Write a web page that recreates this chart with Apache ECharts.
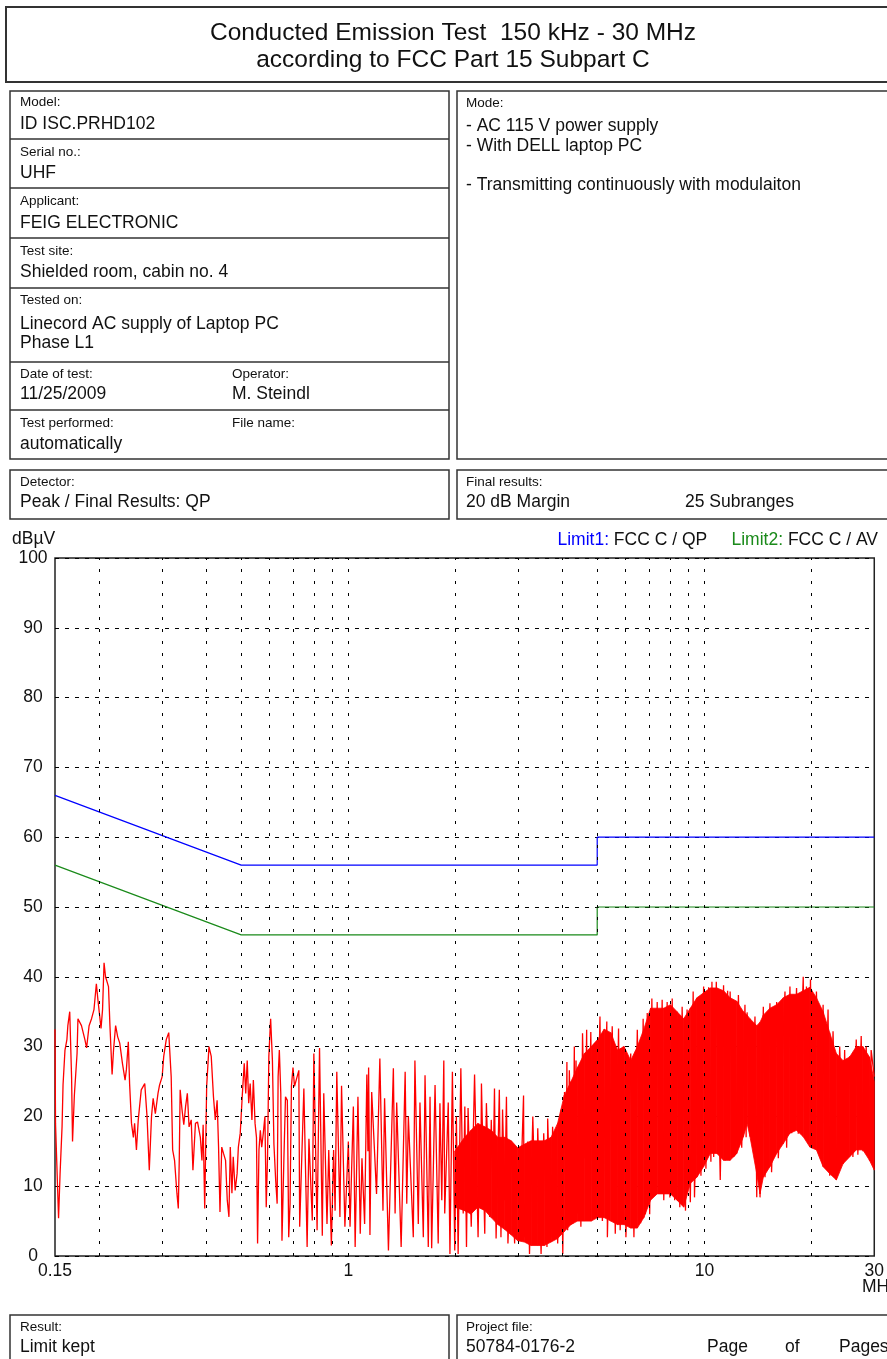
<!DOCTYPE html>
<html><head><meta charset="utf-8">
<script src="https://cdn.jsdelivr.net/npm/echarts@6/dist/echarts.min.js"></script>
<style>html,body{margin:0;padding:0;background:#fff;overflow:hidden}#c{width:887px;height:1359px}</style>
</head><body><div id="c"></div>
<script>
const FONT = '"Liberation Sans", Arial, Helvetica, sans-serif';

// ---- data (frequency in MHz, level in dBµV) ----
const limit1QP = [[0.15,66],[0.5,56],[5,56],[5,60],[30,60]];
const limit2AV = [[0.15,56],[0.5,46],[5,46],[5,50],[30,50]];
const gridFreqs = [0.2,0.3,0.4,0.5,0.6,0.7,0.8,0.9,1,2,3,4,5,6,7,8,9,10,20];
const xTickLabels = ['0.15','1','10','30'];
const yTicks = [0,10,20,30,40,50,60,70,80,90,100];

const traceLow = [[0.150,32.5],[0.1505,19],[0.152,19],[0.1535,5.4],[0.155,11.8],[0.157,18.5],[0.158,24.5],[0.160,29.5],[0.162,31],[0.163,33],[0.165,35],[0.167,25.5],[0.168,16.4],[0.170,23],[0.173,29],[0.174,34],[0.178,33],[0.182,31],[0.184,29.8],[0.187,33],[0.190,34],[0.193,35.3],[0.196,39],[0.198,36.7],[0.202,32.6],[0.204,35.3],[0.206,42],[0.208,40],[0.212,38.6],[0.214,33],[0.217,26],[0.219,29.5],[0.222,33],[0.225,31.4],[0.228,30.5],[0.232,27.6],[0.236,25.2],[0.238,26.7],[0.241,30.7],[0.243,24.7],[0.246,19],[0.249,17],[0.251,19],[0.254,15.2],[0.257,19.5],[0.262,23.8],[0.268,24.7],[0.272,20],[0.276,12.3],[0.280,20],[0.283,22.6],[0.287,20.4],[0.292,23.3],[0.295,24.5],[0.300,25.7],[0.303,28.6],[0.308,31],[0.313,32],[0.318,25.7],[0.321,15.2],[0.325,13.7],[0.330,9],[0.333,6.8],[0.335,13.7],[0.337,23.8],[0.341,21],[0.345,18.8],[0.349,21.4],[0.353,23.3],[0.357,18.5],[0.362,19.5],[0.366,12.3],[0.372,19],[0.377,19.2],[0.384,17],[0.388,13.7],[0.391,18.8],[0.395,6.8],[0.400,24.3],[0.406,30],[0.412,28.6],[0.418,22.8],[0.423,19.5],[0.428,22.3],[0.432,15.6],[0.436,6.3],[0.441,15.6],[0.446,14.7],[0.452,13.7],[0.457,8],[0.462,5.6],[0.466,15.6],[0.471,9],[0.475,14.2],[0.481,9.4],[0.487,11.8],[0.491,15.6],[0.497,17.6],[0.504,23.3],[0.510,27.6],[0.515,23.3],[0.520,28],[0.525,21.9],[0.530,24.7],[0.536,19.5],[0.541,25.2],[0.547,19],[0.552,17],[0.556,1.8],[0.561,15.2],[0.566,18],[0.571,15.6],[0.577,17.6],[0.583,20],[0.588,7],[0.593,14.2],[0.598,28.6],[0.605,34],[0.612,28],[0.618,16],[0.625,10.9],[0.631,7.5],[0.635,25.7],[0.640,29.5],[0.646,23.3],[0.651,2.2],[0.659,13.7],[0.666,22.8],[0.674,22.3],[0.680,2.7],[0.686,7.5],[0.692,24.3],[0.699,27],[0.706,24.3]];

const traceMid = [[0.726,26.6],[0.730,4.2],[0.750,24],[0.766,1.3],[0.775,16.8],[0.792,5.1],[0.800,29],[0.817,3.7],[0.830,29.8],[0.845,2.9],[0.853,23.3],[0.871,4.6],[0.881,15.2],[0.896,1.5],[0.909,15.2],[0.918,6.5],[0.928,26.4],[0.947,5.6],[0.957,24.4],[0.978,4.2],[1.000,16.4],[1.011,4.2],[1.033,21.4],[1.045,1.3],[1.064,22.8],[1.080,3.2],[1.092,14],[1.111,4.6],[1.127,26],[1.135,15],[1.140,27],[1.150,3],[1.163,23.5],[1.200,8.9],[1.226,28.3],[1.251,6.5],[1.264,22.6],[1.296,0.8],[1.338,26.9],[1.353,6.1],[1.367,22],[1.407,1.3],[1.444,26.4],[1.459,7.5],[1.474,20],[1.522,2.7],[1.538,28],[1.572,4.6],[1.589,22],[1.624,2.7],[1.642,25.9],[1.677,1.3],[1.696,22.8],[1.714,1.1],[1.752,24.5],[1.788,1.8],[1.808,21.9],[1.830,8],[1.854,28],[1.865,6.1],[1.908,22],[1.929,0.3],[1.960,26.4],[1.990,0.8],[2.011,20],[2.034,0.3],[2.070,26.9],[2.102,6.1],[2.124,21.4],[2.147,1.3],[2.169,21.2],[2.214,4.2],[2.262,26],[2.314,2.7],[2.339,17],[2.355,12],[2.365,24.7],[2.416,3.2],[2.442,21.9],[2.494,5.6],[2.520,19.5],[2.547,10],[2.573,24],[2.600,2.5],[2.655,23.8],[2.683,2.7],[2.711,21],[2.750,8],[2.780,22.8],[2.807,1.8],[2.868,16],[2.931,1.8],[2.962,15],[3.027,4.2],[3.105,23],[3.118,2.7],[3.192,16.4],[3.227,0.3],[3.297,20],[3.368,1.8],[3.404,18.3],[3.478,0.3],[3.538,17.6],[3.613,1.3],[3.630,19.7],[3.708,2.7],[3.747,18.5],[3.800,6],[3.830,17.6],[3.872,1.8],[3.958,21],[4.002,0.3],[4.047,23.5],[4.090,10],[4.110,27.8],[4.130,3.7],[4.175,26.6],[4.266,4.6],[4.312,30],[4.330,12],[4.360,28],[4.404,6.1],[4.450,25],[4.499,4.2],[4.547,31.9],[4.620,14],[4.670,32.4],[4.697,5.1],[4.797,32.1],[4.850,10],[4.920,30.5],[4.960,6]];

const traceHigh = [[5.09,34.3],[5.17,5],[5.32,33.6],[5.34,2.7],[5.51,32.9],[5.62,3.2],[5.74,32.6],[5.80,3.7],[5.92,30],[6.02,2.7],[6.21,29],[6.34,2.7],[6.48,32.4],[6.62,4.7],[6.73,34],[6.83,6],[6.91,34.8],[7.02,6],[7.12,36.9],[7.23,8.9],[7.37,36.4],[7.48,8.9],[7.61,36.7],[7.69,8],[7.86,36.4],[8.00,8.4],[8.12,36.9],[8.25,8],[8.38,34],[8.53,7],[8.66,35.7],[8.85,6.5],[8.94,35.3],[9.13,7.7],[9.30,37.9],[9.38,8.4],[9.64,37],[9.78,11.5],[9.95,38.6],[10.10,12.5],[10.28,38.5],[10.43,13.5],[10.50,39.3],[10.62,14.2],[10.80,39.3],[11.08,10.9],[11.32,38.8],[11.44,13.7],[11.62,38],[11.75,14],[11.81,37.9],[12.07,14.2],[12.27,14.7],[12.46,37.4],[12.73,15.5],[13.00,36],[13.10,17],[13.18,34.9],[13.58,17],[13.87,34.3],[14.03,8.4],[14.18,33],[14.33,8.4],[14.64,35.7],[14.80,11.3],[15.28,36.2],[15.44,12],[15.96,36.4],[16.13,14],[16.84,37.9],[17.02,15.5],[17.39,38.6],[17.58,17.6],[18.15,38.4],[18.35,17.5],[18.95,40],[19.15,17.5],[19.35,38.6],[19.57,16.5],[19.86,39.6],[20.12,16],[20.64,37.9],[21.09,14.5],[21.55,36],[21.78,12.8],[22.25,35.3],[22.49,11.5],[22.98,32.2],[23.48,10.9],[23.99,30],[24.51,13.2],[24.77,29.5],[25.04,14],[25.58,28.6],[26.13,14.2],[26.70,31],[26.98,14.5],[27.57,31.5],[27.87,15],[28.47,30],[29.09,13.7],[29.40,29.5],[30.0,25.7]];

// dense envelope of the peak scan: [MHz, lower dBµV, upper dBµV]
const denseBand = [[1.99,7,15],[2.12,6.5,17],[2.21,6,18],[2.31,7,19],[2.42,6.5,18.5],[2.52,5.5,18],[2.63,4.5,17],[2.75,3.8,17],[2.87,3,16.5],[2.99,2.2,15.5],[3.12,2,16],[3.26,1.5,16.5],[3.40,1.5,16.5],[3.55,1.5,16.5],[3.71,2,17],[3.87,2.5,19],[4.04,3.5,23],[4.22,4.5,25],[4.40,5,27],[4.60,5,29],[4.81,5,30],[5.01,5.5,31],[5.23,5.5,32.5],[5.46,5,32],[5.70,4.5,29.5],[5.95,4.5,30],[6.21,4,28],[6.48,4,30],[6.76,5.5,32.5],[7.06,8,35.5],[7.37,8.9,35.5],[7.69,8.9,35.5],[8.03,8.9,36],[8.38,8,35],[8.75,7,34],[9.13,10.4,35.5],[9.53,11.3,37],[9.95,12.8,37.7],[10.39,14.7,38.4],[10.84,14.7,38.4],[11.32,13.7,38],[11.81,13.7,37],[12.33,14.7,36.5],[12.87,17.1,35],[13.18,19,34.5],[13.43,17.1,34],[14.03,11.8,33],[14.33,8.9,33.5],[14.64,11.3,34.5],[15.28,12.8,35.5],[15.96,14.7,36],[16.66,16.1,37],[17.39,17.6,37.5],[18.15,18,37.5],[18.95,17.1,38],[19.78,15.6,38.5],[20.64,15.2,37],[21.55,12.8,35],[22.49,11.8,32],[23.48,10.9,29],[24.51,13.2,28],[25.58,14.2,28.5],[26.70,15.2,30],[27.87,15.2,30],[29.09,13.7,28.5],[30.0,12.3,25]];

const traceData = traceLow.concat(traceMid, traceHigh);

// ---- page furniture ----
const G = [];
function rect(x,y,w,h,lw){G.push({type:'rect',silent:true,shape:{x:x,y:y,width:w,height:h},style:{fill:'none',stroke:'#333',lineWidth:lw||1.5}});}
function hline(x1,x2,y){G.push({type:'line',silent:true,shape:{x1:x1,y1:y,x2:x2,y2:y},style:{stroke:'#333',lineWidth:1.3}});}
function txt(x,y,s,size,opt){opt=opt||{};G.push({type:'text',silent:true,x:x,y:y,style:{text:s,fill:opt.color||'#111',font:(size)+'px '+FONT,align:opt.align||'left',verticalAlign:'middle',textAlign:opt.align||'left',textVerticalAlign:'middle'}});}
const LS=13.5, VS=17.5;
rect(6,7,895,75,2);
txt(453,33,'Conducted Emission Test  150 kHz - 30 MHz',24.5,{align:'center'});
txt(453,60,'according to FCC Part 15 Subpart C',24.5,{align:'center'});
rect(10,91,439,368);
[139,188,238,288,362,410].forEach(y=>hline(10,449,y));
rect(457,91,440,368);
rect(10,470,439,49); rect(457,470,440,49);
rect(10,1315,439,70); rect(457,1315,440,70);
txt(20,102,'Model:',LS); txt(20,124,'ID ISC.PRHD102',VS);
txt(20,152,'Serial no.:',LS); txt(20,173,'UHF',VS);
txt(20,201,'Applicant:',LS); txt(20,223,'FEIG ELECTRONIC',VS);
txt(20,251,'Test site:',LS); txt(20,272,'Shielded room, cabin no. 4',VS);
txt(20,300,'Tested on:',LS); txt(20,324,'Linecord AC supply of Laptop PC',VS); txt(20,343,'Phase L1',VS);
txt(20,374,'Date of test:',LS); txt(20,394,'11/25/2009',VS); txt(232,374,'Operator:',LS); txt(232,394,'M. Steindl',VS);
txt(20,423,'Test performed:',LS); txt(20,444,'automatically',VS); txt(232,423,'File name:',LS);
txt(20,482,'Detector:',LS); txt(20,502,'Peak / Final Results: QP',VS);
txt(466,103,'Mode:',LS); txt(466,126,'- AC 115 V power supply',VS); txt(466,146,'- With DELL laptop PC',VS); txt(466,185,'- Transmitting continuously with modulaiton',VS);
txt(466,482,'Final results:',LS); txt(466,502,'20 dB Margin',VS); txt(685,502,'25 Subranges',VS);
txt(20,1327,'Result:',LS); txt(20,1347,'Limit kept',VS);
txt(466,1327,'Project file:',LS); txt(466,1347,'50784-0176-2',VS); txt(707,1347,'Page',VS); txt(785,1347,'of',VS); txt(839,1347,'Pages',VS);
txt(12,539,'dBµV',17.5);
txt(862,1287,'MHz',17.5);
G.push({type:'text',silent:true,x:878,y:540,style:{text:'{b|Limit1:} FCC C / QP     {g|Limit2:} FCC C / AV',fill:'#111',font:'17.5px '+FONT,align:'right',verticalAlign:'middle',textAlign:'right',textVerticalAlign:'middle',rich:{b:{fill:'#0000ff',color:'#0000ff',font:'17.5px '+FONT},g:{fill:'#1a8a1a',color:'#1a8a1a',font:'17.5px '+FONT}}}});

const chart = echarts.init(document.getElementById('c'), null, {renderer:'canvas'});
chart.setOption({
  animation:false,
  backgroundColor:'#fff',
  graphic:G,
  grid:{left:55,top:558,width:823,height:698,show:true,borderColor:'#222',borderWidth:1.5,backgroundColor:'transparent'},
  xAxis:{type:'log',logBase:10,min:0.15,max:30,
    axisLine:{show:false},axisTick:{show:false},splitLine:{show:false},minorTick:{show:false},
    axisLabel:{show:true,showMinLabel:true,showMaxLabel:true,color:'#111',fontFamily:FONT,fontSize:17.5,margin:6,
      formatter:function(v){const r=Math.round(v*100)/100; const s=String(r); return xTickLabels.indexOf(s)>=0?s:'';}}},
  yAxis:{type:'value',min:0,max:100,interval:10,
    axisLine:{show:false},axisTick:{show:false},
    axisLabel:{color:'#111',fontFamily:FONT,fontSize:17.5,align:'center',margin:22,
      formatter:function(v){return yTicks.indexOf(v)>=0?String(v):'';}},
    splitLine:{show:true,lineStyle:{color:'#000',width:1,type:[4,6]}}},
  series:[
    {type:'custom',name:'dense',silent:true,clip:true,data:denseBand,encode:{x:0,y:[1,2]},
      renderItem:function(params,api){
        const i=params.dataIndexInside;
        if(i>=params.dataInsideLength-1) return null;
        const a0=api.coord([api.value(0),api.value(2)]);
        const a1=api.coord([api.value(0,i+1),api.value(2,i+1)]);
        const b1=api.coord([api.value(0,i+1),api.value(1,i+1)]);
        const b0=api.coord([api.value(0),api.value(1)]);
        return {type:'polygon',shape:{points:[a0,a1,b1,b0]},style:{fill:'#ff0000',stroke:'#ff0000',lineWidth:0.8}};
      }},
    {type:'line',name:'Peak',data:traceData,symbol:'none',silent:true,lineStyle:{color:'#ff0000',width:1.3},z:3},
    {type:'line',name:'Limit1',data:limit1QP,symbol:'none',silent:true,lineStyle:{color:'#0000ff',width:1.2},z:4,
      markLine:{silent:true,symbol:'none',animation:false,label:{show:false},
        lineStyle:{color:'#000',width:1,type:[3,9]},
        data:gridFreqs.map(f=>({xAxis:f}))}},
    {type:'line',name:'Limit2',data:limit2AV,symbol:'none',silent:true,lineStyle:{color:'#1a8a1a',width:1.2},z:4}
  ]
});
</script></body></html>
